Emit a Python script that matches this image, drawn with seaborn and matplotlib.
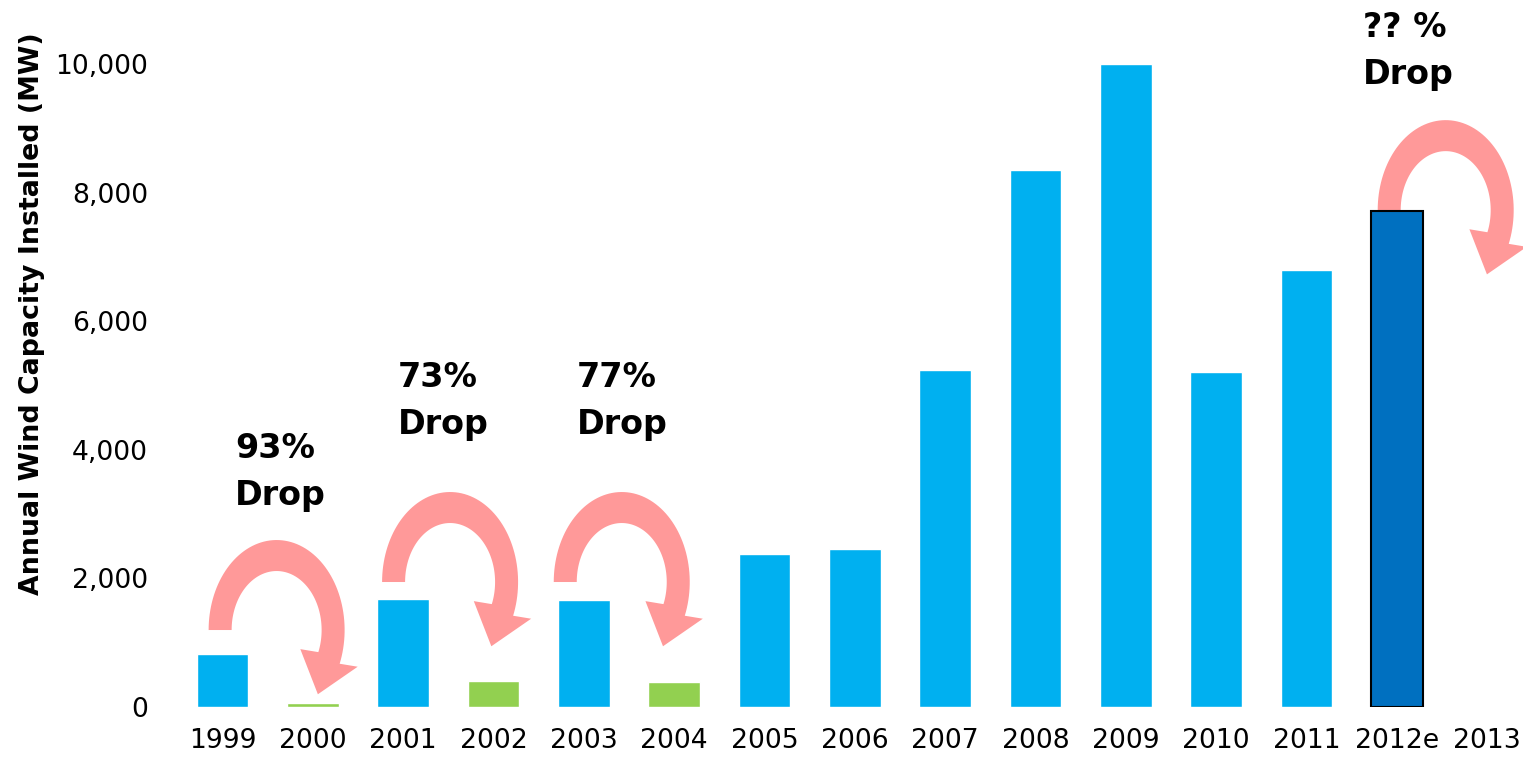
import numpy as np
import pandas as pd
import seaborn as sns
import matplotlib.pyplot as plt
from matplotlib.patches import Polygon
from matplotlib.transforms import ScaledTranslation
from matplotlib.ticker import StrMethodFormatter

# data
years = ['1999', '2000', '2001', '2002', '2003', '2004', '2005', '2006',
         '2007', '2008', '2009', '2010', '2011', '2012e', '2013']
installed_mw = [820, 62, 1680, 405, 1665, 389, 2376, 2454,
                5244, 8355, 10000, 5212, 6800, 7722]
bar_kind = ['actual', 'drop', 'actual', 'drop', 'actual', 'drop', 'actual', 'actual',
            'actual', 'actual', 'actual', 'actual', 'actual', 'estimate']
drop_labels = ['93%', '73%', '77%', '?? %']

# annotation placement (data units)
text_x = [0.14, 1.94, 3.92, 12.62]
text_y = [3874, 4979, 4979, 10425]
arrow_x = [0.60, 2.52, 4.42, 13.54]
arrow_y = [1198, 1945, 1945, 7732]

df = pd.DataFrame({'year': years[:len(installed_mw)], 'mw': installed_mw, 'kind': bar_kind})

sns.set_style('white')
plt.rcParams['font.family'] = ['DejaVu Sans']
plt.rcParams['text.color'] = 'black'
plt.rcParams['xtick.color'] = 'black'
plt.rcParams['ytick.color'] = 'black'
plt.rcParams['axes.labelcolor'] = 'black'

fig = plt.figure(figsize=(15.24, 7.59), dpi=100)
ax = fig.add_axes([0.1163, 0.0685, 0.8833, 0.9144])

palette = {'actual': '#00B0F0', 'drop': '#92D050', 'estimate': '#0070C0'}
sns.barplot(data=df, x='year', y='mw', hue='kind', order=years, hue_order=list(palette),
            palette=palette, dodge=False, width=0.57, saturation=1, legend=False, ax=ax,
            zorder=2)
for bar in ax.containers[2]:
    bar.set_edgecolor('black')
    bar.set_linewidth(1.5)


def curved_arrow(cx, cy):
    # shape in pixels around the tail level, converted to inches
    th_end = np.deg2rad(-22)
    th = np.linspace(np.pi, th_end, 80)
    outer = np.c_[68 * np.cos(th), 90 * np.sin(th)]
    inner = np.c_[45 * np.cos(th[::-1]), 59 * np.sin(th[::-1])]
    a, b = 56.5, 74.5
    mid = np.array([a * np.cos(th_end), b * np.sin(th_end)])
    tang = np.array([a * np.sin(th_end), -b * np.cos(th_end)])
    tang /= np.hypot(*tang)
    norm = np.array([-tang[1], tang[0]])
    if np.dot(norm, mid) < 0:
        norm = -norm
    head = np.array([mid + 30 * norm, mid + 38 * tang, mid - 30 * norm])
    pts = np.vstack([outer, head, inner]) / 100.0
    tr = fig.dpi_scale_trans + ScaledTranslation(cx, cy, ax.transData)
    ax.add_patch(Polygon(pts, closed=True, facecolor='#FF9999', edgecolor='none',
                         transform=tr, zorder=1))


for x, y in zip(arrow_x, arrow_y):
    curved_arrow(x, y)

for lab, x, y in zip(drop_labels, text_x, text_y):
    ax.text(x, y, lab, fontsize=24, fontweight='bold', ha='left', va='baseline',
            color='black')
    ax.annotate('Drop', xy=(x, y), xytext=(0, -34), textcoords='offset points',
                fontsize=24, fontweight='bold', ha='left', va='baseline', color='black')

ax.set_xlim(-0.5, 14.4)
ax.set_ylim(0, 10800)
ax.set_yticks([0, 2000, 4000, 6000, 8000, 10000])
ax.yaxis.set_major_formatter(StrMethodFormatter('{x:,.0f}'))
ax.tick_params(axis='both', length=0, labelsize=19.2, labelcolor='black')
ax.tick_params(axis='y', pad=21)
ax.tick_params(axis='x', pad=15)
ax.set_xlabel('')
ax.set_ylabel('Annual Wind Capacity Installed (MW)', fontsize=19.3, fontweight='bold',
              color='black')
ax.yaxis.set_label_coords(-0.098, 0.567)
sns.despine(left=True, bottom=True)

fig.savefig('out.png', dpi=100)
